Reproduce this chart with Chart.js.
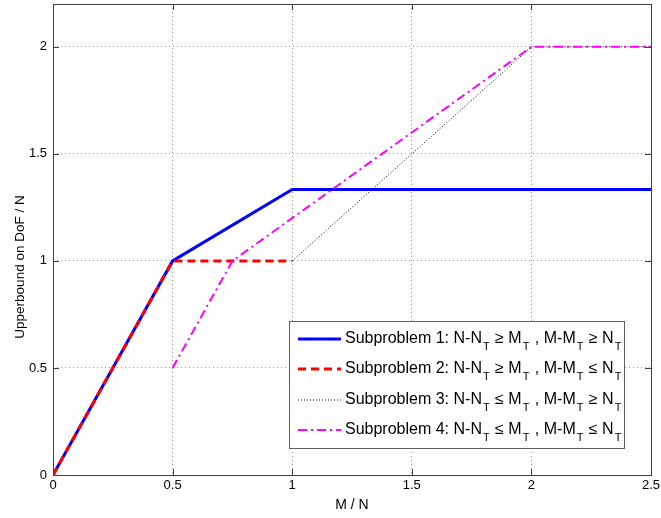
<!DOCTYPE html>
<html>
<head>
<meta charset="utf-8">
<script src="https://cdn.jsdelivr.net/npm/chart.js@4.4.1/dist/chart.umd.min.js"></script>
<style>
  html, body { margin: 0; padding: 0; background: #fff; }
  #wrap { width: 661px; height: 518px; position: relative; }
</style>
</head>
<body>
<div id="wrap"><canvas id="c" width="661" height="518"></canvas></div>
<script>
// data
const s1X = [0, 0.5, 1, 2.5];
const s1Y = [0, 1, 4 / 3, 4 / 3];
const s2X = [0, 0.5, 1];
const s2Y = [0, 1, 1];
const s3X = [1, 2, 2.5];
const s3Y = [1, 2, 2];
const s4X = [0.5, 0.75, 2, 2.5];
const s4Y = [0.5, 1, 2, 2];

const xTicks = [0, 0.5, 1, 1.5, 2, 2.5];
const yTicks = [0, 0.5, 1, 1.5, 2];
const xTitle = 'M / N';
const yTitle = 'Upperbound on DoF / N';
// "_T" marks a subscript T
const legendLabels = [
    'Subproblem 1: N-N_T ≥ M_T , M-M_T ≥ N_T',
    'Subproblem 2: N-N_T ≥ M_T , M-M_T ≤ N_T',
    'Subproblem 3: N-N_T ≤ M_T , M-M_T ≥ N_T',
    'Subproblem 4: N-N_T ≤ M_T , M-M_T ≤ N_T'
];

const FONT = '"Liberation Sans", Arial, sans-serif';

function pts(xs, ys) { return xs.map((x, i) => ({ x: x, y: ys[i] })); }

// matlab style frame + inward ticks + y label
const framePlugin = {
    id: 'frame',
    afterDatasetsDraw(chart) {
        const { ctx, chartArea: a, scales } = chart;
        ctx.save();
        ctx.strokeStyle = '#404040';
        ctx.lineWidth = 1;
        ctx.setLineDash([]);
        ctx.beginPath();
        xTicks.forEach(v => {
            const px = Math.round(scales.x.getPixelForValue(v)) + 0.5;
            ctx.moveTo(px, a.bottom); ctx.lineTo(px, a.bottom - 6);
            ctx.moveTo(px, a.top); ctx.lineTo(px, a.top + 6);
        });
        yTicks.forEach(v => {
            const py = Math.round(scales.y.getPixelForValue(v)) + 0.5;
            ctx.moveTo(a.left, py); ctx.lineTo(a.left + 6, py);
            ctx.moveTo(a.right, py); ctx.lineTo(a.right - 6, py);
        });
        ctx.stroke();
        ctx.strokeRect(Math.round(a.left) + 0.5, Math.round(a.top) + 0.5,
            Math.round(a.right - a.left), Math.round(a.bottom - a.top));

        // y label sits a bit below the axis middle in the original
        ctx.translate(20, 267);
        ctx.rotate(-Math.PI / 2);
        ctx.fillStyle = '#000';
        ctx.font = '13.5px ' + FONT;
        ctx.textAlign = 'center';
        ctx.textBaseline = 'middle';
        ctx.fillText(yTitle, 0, 0);
        ctx.restore();
    }
};

// legend with subscripts, boxed in the lower right
const legendPlugin = {
    id: 'subLegend',
    afterDraw(chart) {
        const ctx = chart.ctx;
        const bx = 289, by = 321, bw = 335, bh = 127;
        ctx.save();
        ctx.fillStyle = '#fff';
        ctx.fillRect(bx, by, bw, bh);
        ctx.strokeStyle = '#606060';
        ctx.lineWidth = 1;
        ctx.setLineDash([]);
        ctx.strokeRect(bx + 0.5, by + 0.5, bw, bh);
        const rowY = [339, 369, 400, 430];
        chart.data.datasets.forEach((ds, i) => {
            const y = rowY[i];
            ctx.strokeStyle = ds.borderColor;
            ctx.lineWidth = ds.borderWidth;
            ctx.setLineDash(ds.borderDash || []);
            ctx.beginPath();
            ctx.moveTo(298, y); ctx.lineTo(341, y);
            ctx.stroke();
            ctx.setLineDash([]);
            ctx.fillStyle = '#000';
            ctx.textBaseline = 'middle';
            let x = 345;
            const parts = legendLabels[i].split('_T');
            parts.forEach((p, k) => {
                ctx.font = '16px ' + FONT;
                ctx.fillText(p, x, y);
                x += ctx.measureText(p).width;
                if (k < parts.length - 1) {
                    ctx.font = '11px ' + FONT;
                    ctx.fillText('T', x + 1, y + 8);
                    x += ctx.measureText('T').width + 2;
                }
            });
        });
        ctx.restore();
    }
};

new Chart(document.getElementById('c'), {
    type: 'line',
    data: {
        datasets: [
            { data: pts(s1X, s1Y), borderColor: '#0000ff', borderWidth: 3, order: 4 },
            { data: pts(s2X, s2Y), borderColor: '#ff0000', borderWidth: 3, borderDash: [8, 5], order: 3 },
            { data: pts(s3X, s3Y), borderColor: '#000000', borderWidth: 1, borderDash: [1, 2], order: 2 },
            { data: pts(s4X, s4Y), borderColor: '#ff00ff', borderWidth: 2, borderDash: [9, 4, 2, 4], order: 1 }
        ]
    },
    options: {
        responsive: false, animation: false,
        layout: { padding: { top: 4, right: 10, left: 0, bottom: 0 } },
        elements: { point: { radius: 0 }, line: { tension: 0, fill: false } },
        plugins: { legend: { display: false }, tooltip: { enabled: false } },
        scales: {
            x: {
                type: 'linear', min: 0, max: 2.5,
                afterBuildTicks: s => { s.ticks = xTicks.map(v => ({ value: v })); },
                afterFit: s => { s.height = 43; s.paddingLeft = 0; s.paddingRight = 0; },
                ticks: { color: '#000', font: { family: FONT, size: 13 }, padding: 3, maxRotation: 0,
                    callback: v => String(v) },
                grid: { color: '#999', lineWidth: 1, drawTicks: false },
                border: { display: false, dash: [1, 3] },
                title: { display: true, text: xTitle, color: '#000', font: { family: FONT, size: 14 }, padding: { top: 3 } }
            },
            y: {
                type: 'linear', min: 0, max: 2.2,
                afterBuildTicks: s => { s.ticks = yTicks.map(v => ({ value: v })); },
                afterFit: s => { s.width = 53; s.paddingTop = 0; s.paddingBottom = 0; },
                ticks: { color: '#000', font: { family: FONT, size: 13 }, padding: 6,
                    callback: v => String(v) },
                grid: { color: '#999', lineWidth: 1, drawTicks: false },
                border: { display: false, dash: [1, 3] },
                title: { display: false }
            }
        }
    },
    plugins: [framePlugin, legendPlugin]
});
</script>
</body>
</html>
